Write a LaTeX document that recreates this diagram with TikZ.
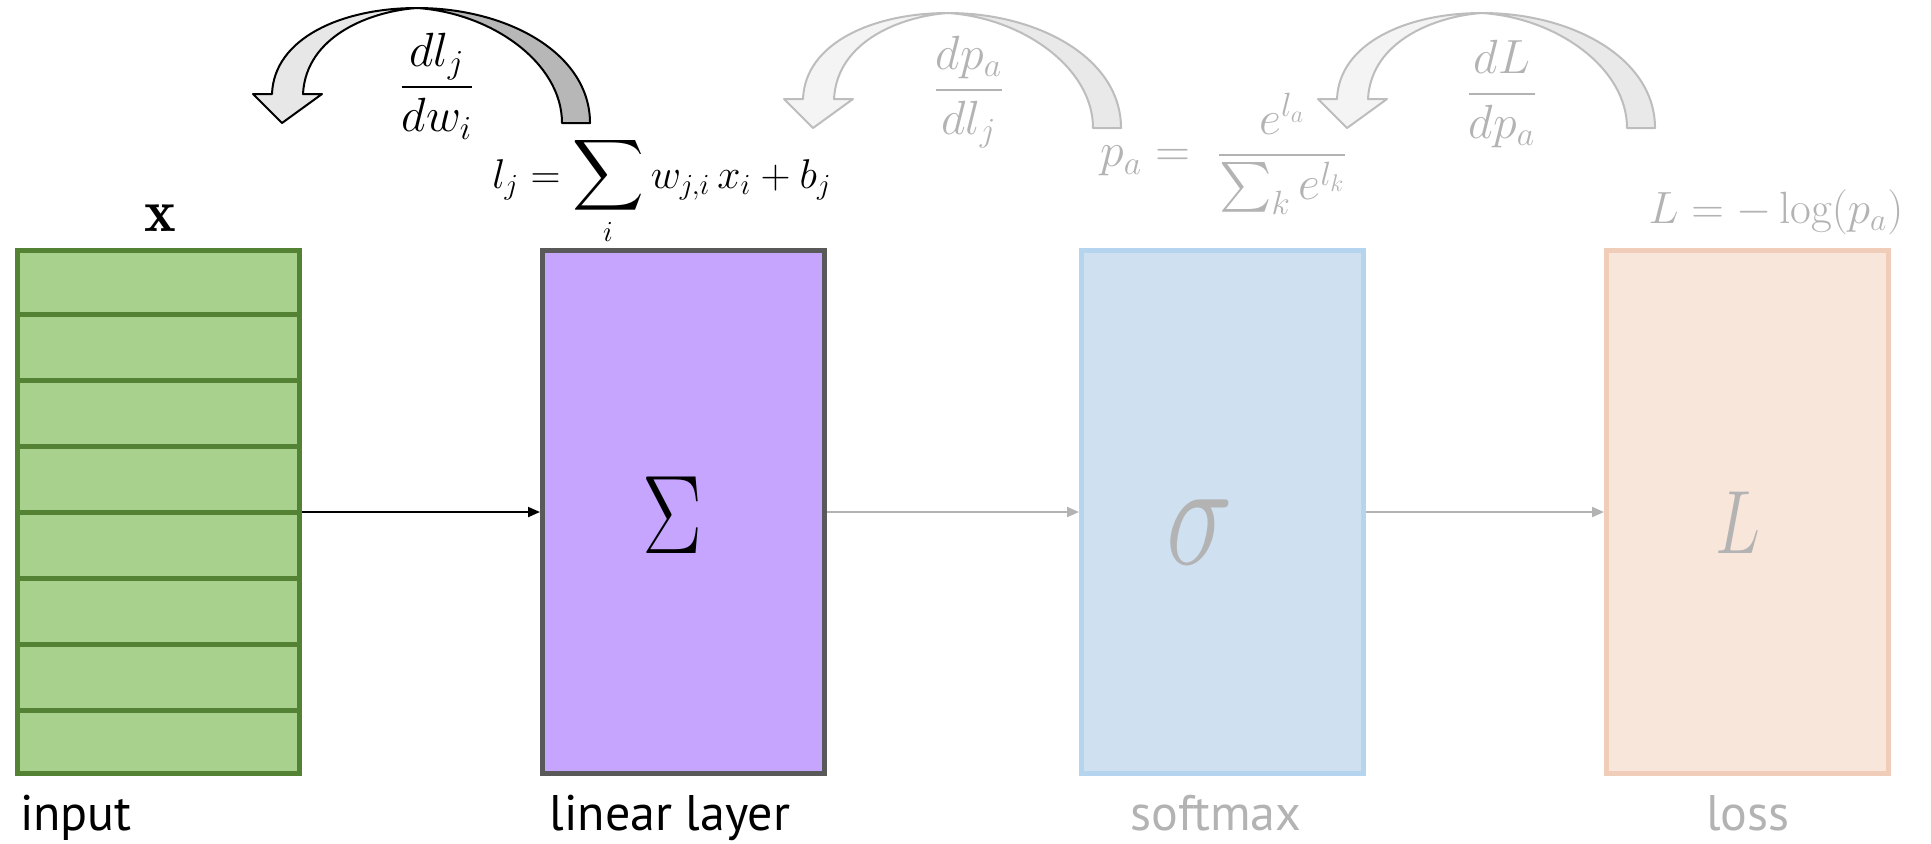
\RequirePackage{fix-cm}
\documentclass[tikz,border=0pt]{standalone}
\usepackage{fontspec}
\usepackage{amsmath}
\usepackage{graphicx}
\newfontfamily\labelfont{PT Sans}
\usetikzlibrary{arrows.meta,calc}

\definecolor{inputfill}{HTML}{A9D18E}
\definecolor{inputline}{HTML}{548235}
\definecolor{linfill}{HTML}{C6A5FE}
\definecolor{linline}{HTML}{595959}
\definecolor{smfill}{HTML}{CFE0F1}
\definecolor{smline}{HTML}{B5D4EE}
\definecolor{lossfill}{HTML}{F9E6DA}
\definecolor{lossline}{HTML}{F0CDB8}
\definecolor{faded}{HTML}{B3B3B3}
\definecolor{arrowlight}{HTML}{E7E7E7}
\definecolor{arrowdark}{HTML}{B7B7B7}
\definecolor{fadedlight}{HTML}{F4F4F4}
\definecolor{fadeddark}{HTML}{E9E9E9}
\definecolor{fadedline}{HTML}{BDBDBD}

\newcommand{\bigsum}{\mathop{\scalebox{1.2}{$\displaystyle\sum$}}\limits}

\tikzset{
  layerbox/.style={draw, line width=2.5pt, minimum width=141pt,
    minimum height=261.5pt, inner sep=0pt},
  caption/.style={font=\labelfont\fontsize{25}{30}\selectfont,
    anchor=base, inner sep=0pt},
  flow/.style={line width=1pt, -{Triangle[length=6pt,width=5pt]}},
  eq/.style={font=\fontsize{20.8}{26}\selectfont, inner sep=0pt},
  frac/.style={font=\fontsize{24}{28}\selectfont, inner sep=0pt},
  % curved block arrow: back face (tail) and front face (with head)
  pics/gradarrow/.style n args={3}{code={
    \draw[#1, line width=1pt, line join=round, fill=#3]
      (135,-115) .. controls (225,-115) and (308,-70) .. (308,0)
      -- (280,0) .. controls (280,-60) and (210,-110) .. (135,-115) -- cycle;
    \draw[#1, line width=1pt, line join=round, fill=#2]
      (-10,-29) .. controls (-8,-85) and (60,-115) .. (135,-115)
      .. controls (90,-112) and (24,-88) .. (21,-29)
      -- (40,-29) -- (0,0) -- (-29,-29) -- cycle;
  }}
}

\begin{document}
\begin{tikzpicture}[x=0.5pt, y=-0.5pt]
\useasboundingbox (0,0) rectangle (1931,843);

% gradient arrows
\pic (grad1) at (282,123) {gradarrow={black}{arrowlight}{arrowdark}};
\pic (grad2) at (813,128) {gradarrow={fadedline}{fadedlight}{fadeddark}};
\pic (grad3) at (1347,128) {gradarrow={fadedline}{fadedlight}{fadeddark}};

% layers
\node[layerbox, fill=inputfill, draw=inputline] (input) at (158.5,512) {};
\foreach \k in {1,...,7}
  \draw[inputline, line width=2.5pt]
    ($(input.north west)!\k/8!(input.south west)$) --
    ($(input.north east)!\k/8!(input.south east)$);
\node[layerbox, fill=linfill, draw=linline] (linear) at (683.5,512) {};
\node[layerbox, fill=smfill, draw=smline] (softmax) at (1222.5,512) {};
\node[layerbox, fill=lossfill, draw=lossline] (loss) at (1747.5,512) {};

% symbols inside layers
\node[inner sep=0pt] (sumsym) at (672,515)
  {\fontsize{56}{60}\selectfont\scalebox{0.8}[1]{$\Sigma$}};
\node[inner sep=0pt, text=faded] (sigsym) at (1200,532)
  {\fontsize{75}{80}\selectfont\scalebox{0.75}[1]{$\sigma$}};
\node[inner sep=0pt, text=faded] (losssym) at (1738,523)
  {\fontsize{45}{50}\selectfont\scalebox{0.75}[1]{$L$}};

% forward connections
\draw[flow] (input.east) -- (linear.west);
\draw[flow, faded] (linear.east) -- (softmax.west);
\draw[flow, faded] (softmax.east) -- (loss.west);

% captions
\node[caption] (capinput) at (76,830) {input};
\node[caption] (caplinear) at (670,830) {linear layer};
\node[caption, text=faded] (capsoftmax) at (1216,830) {softmax};
\node[caption, text=faded] (caploss) at (1748,830) {loss};

% equations
\node[inner sep=0pt] (xlabel) at (160,218) {\fontsize{30}{36}\selectfont$\mathbf{x}$};
\node[eq, anchor=base west] (linsum) at (492,188)
  {$\displaystyle l_j = \bigsum_i w_{j,i}\, x_i + b_j$};
\node[frac, text=faded] (softeq) at (1224,154)
  {$p_a = \;\dfrac{e^{l_a}}{\sum_k e^{l_k}}$};
\node[eq, text=faded, font=\fontsize{22.6}{28}\selectfont] (losseq) at (1776,212)
  {$L = -\log(p_a)$};
\node[frac] (dldw) at (437,86) {$\dfrac{dl_j}{dw_i}$};
\node[frac, text=faded] (dpdl) at (969,92) {$\dfrac{dp_a}{dl_j}$};
\node[frac, text=faded] (dLdp) at (1502,94) {$\dfrac{dL}{dp_a}$};
\end{tikzpicture}
\end{document}
